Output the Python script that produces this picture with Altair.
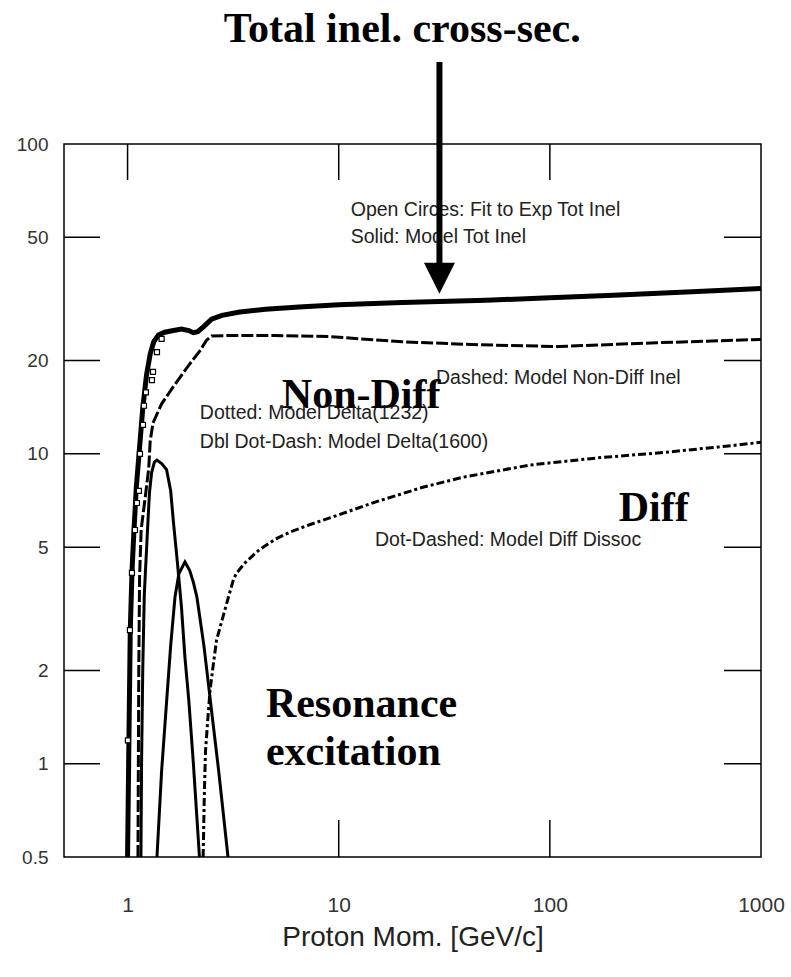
import altair as alt
import pandas as pd

# ---------------- data ----------------
total_p = [1.0, 1.015, 1.03, 1.05, 1.07, 1.1, 1.14, 1.18, 1.23, 1.28, 1.33, 1.4, 1.5, 1.65, 1.8,
           1.95, 2.05, 2.15, 2.3, 2.5, 2.8, 3.4, 4.5, 6.5, 10, 20, 50, 100, 200, 500, 1000]
total_s = [0.5, 1.2, 2.7, 4.2, 5.5, 7.8, 10.5, 14, 18, 21, 23, 24.2, 24.7, 25.0, 25.3,
           25.0, 24.6, 24.8, 25.8, 27.2, 28.0, 28.7, 29.3, 29.8, 30.3, 30.8, 31.3, 31.9, 32.5, 33.4, 34.2]

fit_p = [1.004, 1.026, 1.049, 1.084, 1.108, 1.132, 1.145, 1.183, 1.196, 1.222, 1.305, 1.32, 1.378, 1.45]
fit_s = [1.19, 2.70, 4.13, 5.68, 6.94, 7.6, 10.0, 12.4, 14.3, 15.8, 17.3, 18.4, 21.3, 23.5]

nondiff_p = [1.12, 1.125, 1.13, 1.14, 1.16, 1.22, 1.26, 1.28, 1.32, 1.45, 1.65, 1.98, 2.2, 2.37, 2.5,
             3, 5, 9, 20, 46, 110, 300, 1000]
nondiff_s = [0.5, 1, 2, 4, 5.7, 7.5, 9, 11, 12.6, 14.5, 16.5, 19.6, 21.5, 23.3, 24.0,
             24.1, 24.1, 23.9, 23.0, 22.5, 22.2, 22.8, 23.4]

delta1232_p = [1.157, 1.165, 1.18, 1.2, 1.24, 1.27, 1.3, 1.34, 1.378, 1.45, 1.53, 1.6, 1.65, 1.72,
               1.8, 1.87, 1.95, 2.05, 2.19]
delta1232_s = [0.5, 1, 2, 3.5, 5.5, 7.5, 8.7, 9.4, 9.55, 9.3, 8.9, 7.6, 6.0, 4.5,
               3.2, 2.2, 1.6, 1.0, 0.5]

delta1600_p = [1.378, 1.45, 1.536, 1.6, 1.677, 1.75, 1.87, 1.97, 2.05, 2.13, 2.3, 2.456, 2.7, 2.99]
delta1600_s = [0.5, 0.95, 1.64, 2.4, 3.45, 4.1, 4.48, 4.2, 3.85, 3.45, 2.4, 1.64, 0.95, 0.5]

diff_p = [2.28, 2.31, 2.34, 2.4, 2.46, 2.55, 2.64, 2.8, 2.95, 3.17, 3.28, 3.6, 4.2, 5.0, 5.9, 7.5,
          9, 15, 25, 38.6, 80, 167, 344, 700, 1000]
diff_s = [0.5, 0.8, 1.1, 1.4, 1.73, 2.1, 2.51, 2.9, 3.3, 3.92, 4.12, 4.45, 4.9, 5.3, 5.6, 5.95,
          6.2, 7.0, 7.8, 8.4, 9.2, 9.7, 10.1, 10.6, 10.9]

y_tick_values = [0.5, 1, 2, 5, 10, 20, 50, 100]
x_tick_values = [1, 10, 100, 1000]
inner_y_ticks = [1, 2, 5, 10, 20, 50]
inner_x_ticks = [1, 10, 100]

note_text = ["Open Circes: Fit to Exp Tot Inel", "Solid: Model Tot Inel",
             "Dashed: Model Non-Diff Inel", "Dotted: Model Delta(1232)",
             "Dbl Dot-Dash: Model Delta(1600)", "Dot-Dashed: Model Diff Dissoc"]
note_p = [11.4, 11.4, 28.9, 2.2, 2.2, 14.85]
note_s = [58.6, 47.9, 16.8, 12.96, 10.45, 5.05]

big_text = ["Non-Diff", "Diff", "Resonance", "excitation"]
big_p = [5.38, 212, 4.52, 4.52]
big_s = [14.07, 6.07, 1.416, 0.991]

title_text = ["Total inel. cross-sec."]
title_p = [20]
title_s = [213]

arrow_p = [30, 30]
arrow_s = [184, 39]
arrow_head_p = [30]
arrow_head_s = [36.9]

# ---------------- chart ----------------
W, H = 697, 713
xs = alt.Scale(type="log", domain=[0.5, 1000], nice=False)
ys = alt.Scale(type="log", domain=[0.5, 100], nice=False)

xaxis = alt.Axis(values=x_tick_values, format="~g", ticks=False, tickSize=0, domain=False, grid=False,
                 labelFlush=False, labelOverlap=False, labelFontSize=21, labelFont="Liberation Sans",
                 labelColor="#333", labelPadding=48, labelBaseline="middle",
                 title="Proton Mom. [GeV/c]", titleFontSize=28, titleFont="Liberation Sans",
                 titleFontWeight="normal", titleColor="#222", titleY=80, titleBaseline="middle")
yaxis = alt.Axis(values=y_tick_values, format="~g", ticks=False, tickSize=0, domain=False, grid=False,
                 labelFlush=False, labelOverlap=False, labelFontSize=19, labelFont="Liberation Sans",
                 labelColor="#333", labelPadding=16, title=None)


def X(field):
    return alt.X(field, type="quantitative", scale=xs, axis=xaxis)


def Y(field):
    return alt.Y(field, type="quantitative", scale=ys, axis=yaxis)


def curve(p, s):
    return pd.DataFrame({"p": p, "s": s})


ytick_df = pd.DataFrame({"v": inner_y_ticks})
xtick_df = pd.DataFrame({"v": inner_x_ticks})

tick_left = alt.Chart(ytick_df).mark_rule(color="black", strokeWidth=1.5).encode(
    y=Y("v"), x=alt.value(0), x2=alt.value(36))
tick_right = alt.Chart(ytick_df).mark_rule(color="black", strokeWidth=1.5).encode(
    y=Y("v"), x=alt.value(W - 37), x2=alt.value(W))
tick_bottom = alt.Chart(xtick_df).mark_rule(color="black", strokeWidth=1.5).encode(
    x=X("v"), y=alt.value(H - 37), y2=alt.value(H))
tick_top = alt.Chart(xtick_df).mark_rule(color="black", strokeWidth=1.5).encode(
    x=X("v"), y=alt.value(0), y2=alt.value(36))

line_total = alt.Chart(curve(total_p, total_s)).mark_line(
    color="black", strokeWidth=5, clip=True).encode(x=X("p"), y=Y("s"))
line_nondiff = alt.Chart(curve(nondiff_p, nondiff_s)).mark_line(
    color="black", strokeWidth=3, strokeDash=[12, 3], clip=True).encode(x=X("p"), y=Y("s"))
line_d1232 = alt.Chart(curve(delta1232_p, delta1232_s)).mark_line(
    color="black", strokeWidth=3, clip=True).encode(x=X("p"), y=Y("s"))
line_d1600 = alt.Chart(curve(delta1600_p, delta1600_s)).mark_line(
    color="black", strokeWidth=3, clip=True).encode(x=X("p"), y=Y("s"))
line_diff = alt.Chart(curve(diff_p, diff_s)).mark_line(
    color="black", strokeWidth=3, strokeDash=[8, 3, 3, 3], clip=True).encode(x=X("p"), y=Y("s"))

fit_pts = alt.Chart(curve(fit_p, fit_s)).mark_point(
    shape="square", filled=True, fill="white", stroke="black", strokeWidth=1.2, size=25,
    opacity=1).encode(x=X("p"), y=Y("s"))

notes = alt.Chart(pd.DataFrame({"t": note_text, "p": note_p, "s": note_s})).mark_text(
    font="Liberation Sans", fontSize=19.5, color="#222", align="left", baseline="alphabetic").encode(
    x=X("p"), y=Y("s"), text="t:N")

bigs = alt.Chart(pd.DataFrame({"t": big_text, "p": big_p, "s": big_s})).mark_text(
    font="Liberation Serif", fontSize=42, fontWeight="bold", color="black", align="left",
    baseline="alphabetic").encode(x=X("p"), y=Y("s"), text="t:N")

title = alt.Chart(pd.DataFrame({"t": title_text, "p": title_p, "s": title_s})).mark_text(
    font="Liberation Serif", fontSize=42, fontWeight="bold", color="black", align="center",
    baseline="alphabetic").encode(x=X("p"), y=Y("s"), text="t:N")

arrow_shaft = alt.Chart(curve(arrow_p, arrow_s)).mark_line(
    color="black", strokeWidth=6).encode(x=X("p"), y=Y("s"))
arrow_head = alt.Chart(curve(arrow_head_p, arrow_head_s)).mark_point(
    shape="M-1,-1L1,-1L0,1Z", filled=True, color="black", size=961, opacity=1).encode(
    x=X("p"), y=Y("s"))

chart = alt.layer(
    tick_left, tick_right, tick_bottom, tick_top,
    line_nondiff, line_diff, line_d1232, line_d1600, line_total, fit_pts,
    notes, bigs, title, arrow_shaft, arrow_head,
).properties(
    width=W, height=H,
    autosize=alt.AutoSizeParams(type="none"),
    padding={"left": 64, "top": 144, "right": 30, "bottom": 120},
    background="white",
).configure_view(stroke="black", strokeWidth=1.5)

chart.save("out.html", embed_options={"renderer": "svg", "actions": False})
